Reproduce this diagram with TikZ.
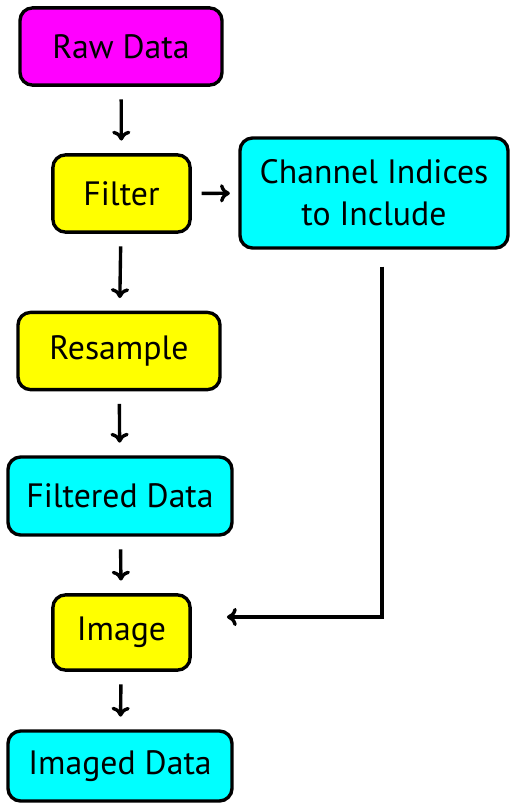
\documentclass[tikz,border=0pt]{standalone}
\usepackage{fontspec}
\setmainfont{PT Sans}
\usetikzlibrary{arrows.meta}
\definecolor{rawcol}{RGB}{255,0,255}
\definecolor{stepcol}{RGB}{255,255,0}
\definecolor{datacol}{RGB}{0,255,255}
\tikzset{
  box/.style={draw, line width=2.4pt, rounded corners=9pt, align=center,
    inner sep=0pt, text=black, font=\fontsize{24}{30}\selectfont},
  flow/.style={-{To[length=7pt,width=13pt]}, line width=2.4pt, shorten <=9pt, shorten >=9pt}
}
\begin{document}
\begin{tikzpicture}[x=0.025cm,y=-0.025cm]
    \useasboundingbox (0,0) rectangle (513,804);

    \node[box, fill=rawcol, minimum width=5.05cm, minimum height=1.93cm] (raw) at (121,46.5) {Raw Data};
    \node[box, fill=stepcol, minimum width=3.43cm, minimum height=1.93cm] (filter) at (121.5,193.5) {Filter};
    \node[box, fill=datacol, minimum width=6.7cm, minimum height=2.75cm] (channel) at (374,193) {Channel Indices\\to Include};
    \node[box, fill=stepcol, minimum width=5.05cm, minimum height=1.93cm] (resample) at (119,351) {Resample};
    \node[box, fill=datacol, minimum width=5.6cm, minimum height=1.95cm] (filtered) at (120,496) {Filtered Data};
    \node[box, fill=stepcol, minimum width=3.43cm, minimum height=1.88cm] (image) at (121.5,632.5) {Image};
    \node[box, fill=datacol, minimum width=5.6cm, minimum height=1.75cm] (imaged) at (120,766) {Imaged Data};

    \draw[flow] (raw) -- (filter);
    \draw[flow] (filter) -- (resample);
    \draw[flow] (resample) -- (filtered);
    \draw[flow] (filtered) -- (image);
    \draw[flow] (image) -- (imaged);
    \draw[flow, shorten <=7pt, shorten >=6pt] (filter) -- (channel);

    % indices go back into the imaging step
    \coordinate (turn) at (382,617);
    \draw[flow, shorten <=12pt, shorten >=25pt] (channel.south -| turn) -- (turn) -- (image.east |- turn);
\end{tikzpicture}
\end{document}
